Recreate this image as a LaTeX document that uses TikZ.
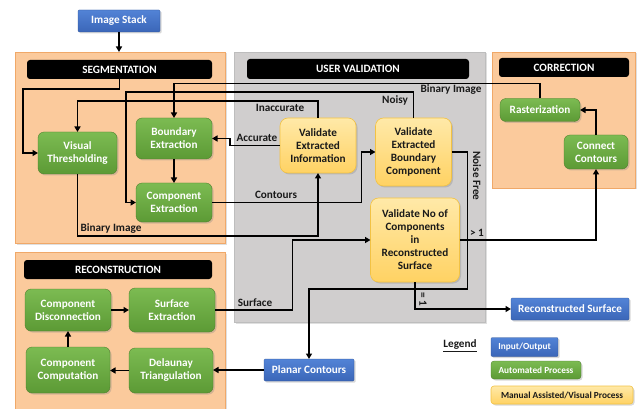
\documentclass[tikz,border=0pt]{standalone}
\usepackage{fontspec}
\setmainfont{Carlito}
\usepackage{tikz}
\usetikzlibrary{arrows.meta,positioning,shadows,calc}
\definecolor{panelorange}{HTML}{FBCA9C}
\definecolor{panelorangeline}{HTML}{F0A868}
\definecolor{panelgray}{HTML}{D0CECE}
\definecolor{panelgrayline}{HTML}{BDBDBD}
\definecolor{greentop}{HTML}{7CBB52}
\definecolor{greenbot}{HTML}{5C9A35}
\definecolor{bluetop}{HTML}{5283D6}
\definecolor{bluebot}{HTML}{3B66B8}
\definecolor{yellowtop}{HTML}{FFE9A8}
\definecolor{yellowbot}{HTML}{FFD263}
\definecolor{yellowline}{HTML}{F2C244}
\definecolor{darktext}{HTML}{1A1A1A}

\begin{document}
\begin{tikzpicture}[
  x=1pt, y=-1pt,
  font=\fontsize{11.2}{13}\selectfont\bfseries,
  >={Triangle[length=5.5pt,width=6pt]},
  panelbox/.style={
    draw=panelorangeline,
    fill=panelorange,
    line width=0.6pt,
    inner sep=0pt,
    outer sep=0pt,
    drop shadow={opacity=0.25,shadow xshift=1.5pt,shadow yshift=-1.5pt}
  },
  graypanel/.style={
    panelbox,
    draw=panelgrayline,
    fill=panelgray
  },
  headbar/.style={
    fill=black,
    text=white,
    rounded corners=3pt,
    inner sep=0pt,
    outer sep=0pt
  },
  autobox/.style={
    draw=greenbot!80!black,
    line width=0.3pt,
    top color=greentop,
    bottom color=greenbot,
    text=white,
    rounded corners=6pt,
    align=center,
    inner sep=0pt,
    outer sep=0pt,
    drop shadow={opacity=0.3,shadow xshift=1.5pt,shadow yshift=-1.5pt}
  },
  iobox/.style={
    draw=bluebot!80!black,
    line width=0.3pt,
    top color=bluetop,
    bottom color=bluebot,
    text=white,
    rounded corners=1pt,
    align=center,
    inner sep=0pt,
    outer sep=0pt,
    drop shadow={opacity=0.3,shadow xshift=1.5pt,shadow yshift=-1.5pt}
  },
  manualbox/.style={
    draw=yellowline,
    line width=0.6pt,
    top color=yellowtop,
    bottom color=yellowbot,
    text=darktext,
    rounded corners=8pt,
    align=center,
    inner sep=0pt,
    outer sep=0pt,
    drop shadow={opacity=0.3,shadow xshift=1.5pt,shadow yshift=-1.5pt}
  },
  legendfont/.style={font=\fontsize{9.3}{11}\selectfont\bfseries},
  flow/.style={->, line width=1.8pt, black},
  edgelabel/.style={text=darktext, inner sep=0pt}
]
  \useasboundingbox (0,0) rectangle (643,409);

  % --- Panels ---
  \node[panelbox, minimum width=210, minimum height=191] (seg) at (120,147.5) {};
  \node[graypanel, minimum width=251, minimum height=270] (uv) at (359.5,187) {};
  \node[panelbox, minimum width=143, minimum height=136] (corr) at (563.5,120) {};
  \node[panelbox, minimum width=210, minimum height=158] (rec) at (120,331) {};

  \node[headbar, minimum width=185, minimum height=19] (seghead) at (119.5,69.5) {SEGMENTATION};
  \node[headbar, minimum width=222, minimum height=20] (uvhead) at (358,69) {USER VALIDATION};
  \node[headbar, minimum width=130, minimum height=19] (corrhead) at (564,67.5) {CORRECTION};
  \node[headbar, minimum width=188, minimum height=19] (rechead) at (118,269.5) {RECONSTRUCTION};

  % --- Input / Output ---
  \node[iobox, minimum width=82, minimum height=22] (stack) at (119,21) {Image Stack};
  \node[iobox, minimum width=90, minimum height=22] (pc) at (309,370) {Planar Contours};
  \node[iobox, minimum width=118, minimum height=22] (rs) at (570,309) {Reconstructed Surface};

  % --- Segmentation ---
  \node[autobox, minimum width=79, minimum height=42] (vt) at (77.5,153) {Visual\\Thresholding};
  \node[autobox, minimum width=76, minimum height=41] (be) at (174,138.5) {Boundary\\Extraction};
  \node[autobox, minimum width=76, minimum height=39] (ce) at (174,202.5) {Component\\Extraction};

  % --- User Validation ---
  \node[manualbox, minimum width=76, minimum height=55] (vei) at (318,145.5) {Validate\\Extracted\\Information};
  \node[manualbox, minimum width=76, minimum height=68] (vebc) at (413.5,152) {Validate\\Extracted\\Boundary\\Component};
  \node[manualbox, minimum width=89, minimum height=84] (vnc) at (415,240) {Validate No of\\Components\\in\\Reconstructed\\Surface};

  % --- Correction ---
  \node[autobox, minimum width=80, minimum height=23] (rast) at (540,110) {Rasterization};
  \node[autobox, minimum width=64, minimum height=34] (cc) at (596,152) {Connect\\Contours};

  % --- Reconstruction ---
  \node[autobox, minimum width=86, minimum height=42] (cd) at (68,310) {Component\\Disconnection};
  \node[autobox, minimum width=86, minimum height=44] (se) at (172,310) {Surface\\Extraction};
  \node[autobox, minimum width=84, minimum height=46] (cco) at (68,370) {Component\\Computation};
  \node[autobox, minimum width=84, minimum height=45] (dt) at (171,370.5) {Delaunay\\Triangulation};

  % --- Connectors ---
  \draw[flow] (stack.south) -- (stack.south |- seg.north);
  \draw[flow] (seghead.south) -- ++(0,10) -| ([xshift=-15pt]vt.west) -- (vt.west);
  \draw[flow] (vei.north) -- ++(0,-17) -| (vt.north);
  \draw[flow] (vebc.north) -- ++(0,-26) -| ([xshift=-10pt]ce.west) -- (ce.west);
  \draw[flow] (rast.north) -- ++(0,-15) -| (be.north);
  \draw[flow] (vei.west) -- ++(-50,0) |- (be.east);
  \draw[flow] (be.south) -- (ce.north);
  \draw[flow] (ce.east) -| ([xshift=-14pt]vebc.west) -- (vebc.west);
  \draw[flow] (vt.south) -- ++(0,62) -| (vei.south);
  \draw[flow] (vebc.east) -- ++(16,0) -- ++(0,137) -| (pc.north);
  \draw[flow] (se.east) -| ([xshift=-78pt]vnc.west) -- (vnc.west);
  \draw[flow] (vnc.east) -| (cc.south);
  \draw[flow] (vnc.south) |- (rs.west);
  \draw[flow] (cc.north) |- (rast.east);
  \draw[flow] (cd.east) -- (se.west);
  \draw[flow] (cco.north) -- (cd.south);
  \draw[flow] (dt.west) -- (dt.west -| cco.east);
  \draw[flow] (pc.west) -- (pc.west -| dt.east);

  % --- Connector labels ---
  \node[edgelabel] (lbinlow) at (111,229) {Binary Image};
  \node[edgelabel] (lbinup) at (451,90) {Binary Image};
  \node[edgelabel] (linacc) at (280,108) {Inaccurate};
  \node[edgelabel] (lacc) at (257,138) {Accurate};
  \node[edgelabel] (lnoisy) at (395,100) {Noisy};
  \node[edgelabel] (lcont) at (276,195) {Contours};
  \node[edgelabel, rotate=-90] (lnfree) at (477,176) {Noise Free};
  \node[edgelabel] (lgt) at (477,233) {> 1};
  \node[edgelabel, rotate=-90] (leq) at (423,299) {= 1};
  \node[edgelabel] (lsurf) at (255,303) {Surface};

  % --- Legend ---
  \node[edgelabel] (legend) at (460,346) {\underline{Legend}};
  \node[iobox, legendfont, minimum width=67, minimum height=19] (legio) at (524.5,347) {Input/Output};
  \node[autobox, legendfont, rounded corners=3pt, minimum width=90, minimum height=18] (legauto) at (536,370) {Automated Process};
  \node[manualbox, legendfont, rounded corners=3pt, minimum width=142, minimum height=18] (legman) at (562,395) {Manual Assisted/Visual Process};
\end{tikzpicture}
\end{document}
